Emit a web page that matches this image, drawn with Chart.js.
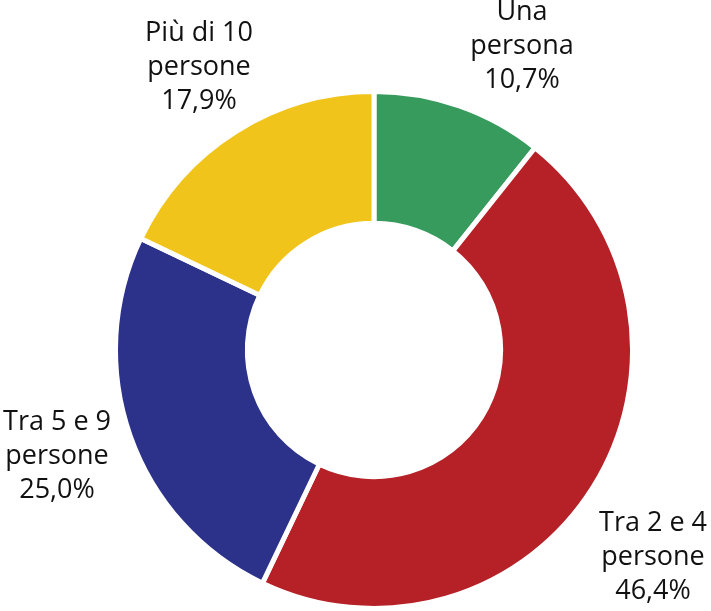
<!DOCTYPE html>
<html>
<head>
<meta charset="utf-8">
<script src="https://cdn.jsdelivr.net/npm/chart.js@4/dist/chart.umd.min.js"></script>
<style>
  html, body { margin: 0; padding: 0; background: #fff; }
  #wrap { width: 711px; height: 611px; }
</style>
</head>
<body>
<div id="wrap"><canvas id="chart"></canvas></div>
<script>
const categories = [['Una', 'persona'], ['Tra 2 e 4', 'persone'], ['Tra 5 e 9', 'persone'], ['Più di 10', 'persone']];
const shares = [10.7, 46.4, 25.0, 17.9];
const colors = ['#369b5d', '#b52126', '#2c318a', '#f0c41b'];

// where each label's first line sits, relative to the doughnut centre
const labelAnchors = [[148, -330], [279, 181], [-317, 80], [-175, -309]];

const outsideLabels = {
    id: 'outsideLabels',
    afterDraw(chart) {
        const ctx = chart.ctx;
        const arc = chart.getDatasetMeta(0).data[0];
        ctx.save();
        ctx.font = '27px "Open Sans", sans-serif';
        ctx.fillStyle = '#111111';
        ctx.textAlign = 'center';
        ctx.textBaseline = 'alphabetic';
        categories.forEach((lines, i) => {
            const x = arc.x + labelAnchors[i][0];
            const y = arc.y + labelAnchors[i][1];
            const text = lines.concat(shares[i].toFixed(1).replace('.', ',') + '%');
            text.forEach((t, j) => ctx.fillText(t, x, y + j * 34));
        });
        ctx.restore();
    }
};

new Chart(document.getElementById('chart'), {
    type: 'doughnut',
    data: {
        labels: categories.map(c => c.join(' ')),
        datasets: [{
            data: shares,
            backgroundColor: colors,
            borderColor: '#ffffff',
            borderWidth: 5
        }]
    },
    options: {
        responsive: true,
        maintainAspectRatio: false,
        animation: false,
        cutout: '49%',
        layout: {
            padding: { top: 89, bottom: -4, left: 111, right: 74 }
        },
        plugins: {
            legend: { display: false },
            tooltip: { enabled: false }
        }
    },
    plugins: [outsideLabels]
});
</script>
</body>
</html>
